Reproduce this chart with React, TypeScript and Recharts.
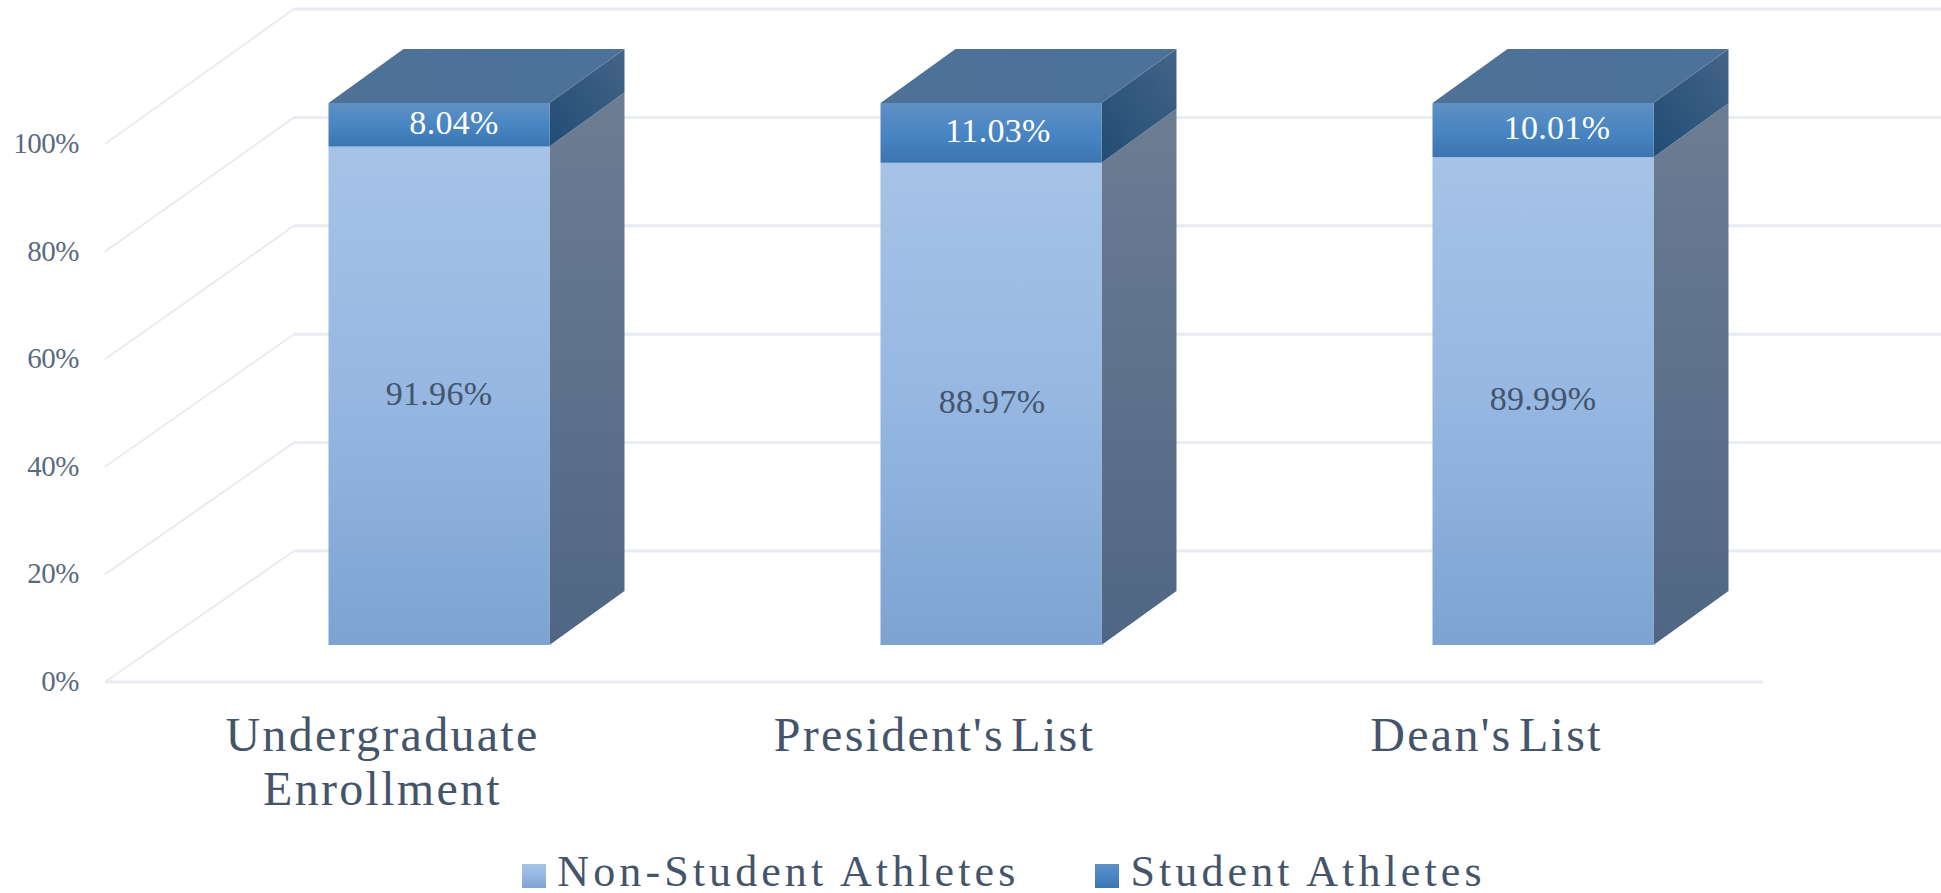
import React from 'react';
import { BarChart, Bar, XAxis, YAxis, Legend, LabelList, CartesianGrid } from 'recharts';

const categories = ['Undergraduate Enrollment', "President's List", "Dean's List"];
const nonStudentAthletes = [91.96, 88.97, 89.99];
const studentAthletes = [8.04, 11.03, 10.01];
const percentTicks = [0, 20, 40, 60, 80, 100];

const data = categories.map((name, i) => ({
  name,
  nonStudent: nonStudentAthletes[i],
  student: studentAthletes[i],
}));

const FONT = '"Liberation Serif", serif';
const TEXT = '#44546a';
const GRID = '#e8ebf1';
const DEPTH_X = 75;
const DEPTH_Y = 54;
const BASE_Y = 645;
const whiteLabelShift = [15, 7, 14];
const darkLabelShift = [0, 1, 0];

// the bars stand in front of the wall, so wall ticks sit a bit lower
const toFrontY = (y: number) => y + 37 + (BASE_Y - y) * 0.0074;

// one bar segment with its side face, plus the lid on the top segment
function Box3D(props: any) {
  const { x, y, width, height, front, side, lid } = props;
  const right = x + width;
  return (
    <g>
      <path
        d={`M${right},${y} L${right + DEPTH_X},${y - DEPTH_Y} L${right + DEPTH_X},${y + height - DEPTH_Y} L${right},${y + height} Z`}
        fill={side}
      />
      {lid && (
        <path
          d={`M${x},${y} L${x + DEPTH_X},${y - DEPTH_Y} L${right + DEPTH_X},${y - DEPTH_Y} L${right},${y} Z`}
          fill="url(#lidFill)"
        />
      )}
      <rect x={x} y={y} width={width} height={height} fill={front} />
    </g>
  );
}

// grid line: side wall, back wall and, at zero, the front edge of the floor
function WallLine(props: any) {
  const y = props.y1;
  const frontY = toFrontY(y);
  const backY = y - 94;
  return (
    <g>
      <line x1={105} y1={frontY} x2={294} y2={backY} stroke={GRID} strokeWidth={2} />
      <line x1={294} y1={backY} x2={1941} y2={backY} stroke={GRID} strokeWidth={3} />
      {y >= BASE_Y - 1 && <line x1={105} y1={frontY} x2={1763} y2={frontY} stroke={GRID} strokeWidth={3} />}
    </g>
  );
}

function WallTick(props: any) {
  const { y, payload } = props;
  return (
    <text
      x={79}
      y={toFrontY(y) + 9}
      textAnchor="end"
      fontFamily={FONT}
      fontSize={29}
      letterSpacing={-0.5}
      fill="#5a6a80"
    >
      {payload.value}%
    </text>
  );
}

function CategoryTick(props: any) {
  const { x, payload } = props;
  const words = payload.value === categories[0] ? payload.value.split(' ') : [payload.value];
  return (
    <text textAnchor="middle" fontFamily={FONT} fontSize={48} letterSpacing={2.3} wordSpacing={-8} fill={TEXT}>
      {words.map((w: string, i: number) => (
        <tspan key={w} x={x - 56} y={751 + i * 54}>
          {w}
        </tspan>
      ))}
    </text>
  );
}

function segmentLabel(color: string, shifts: number[]) {
  return (props: any) => {
    const { x, y, width, height, value, index } = props;
    return (
      <text
        x={x + width / 2 + shifts[index]}
        y={y + height / 2 + 9}
        textAnchor="middle"
        fontFamily={FONT}
        fontSize={34}
        letterSpacing={0.3}
        fill={color}
      >
        {Number(value).toFixed(2)}%
      </text>
    );
  };
}

export default function App() {
  return (
    <div style={{ position: 'absolute', left: 0, top: 0, width: 1941, height: 893, background: '#fff' }}>
      <BarChart
        width={1941}
        height={893}
        data={data}
        barSize={221}
        margin={{ top: 103, right: 122.5, left: 161.5, bottom: 0 }}
      >
        <defs>
          <linearGradient id="lightFront" x1="0" y1="0" x2="0" y2="1">
            <stop offset="0" stopColor="#a6c3e7" />
            <stop offset="0.5" stopColor="#95b7e2" />
            <stop offset="1" stopColor="#7ea3d1" />
          </linearGradient>
          <linearGradient id="darkFront" x1="0" y1="0" x2="0" y2="1">
            <stop offset="0" stopColor="#5f90c4" />
            <stop offset="0.55" stopColor="#4784c2" />
            <stop offset="1" stopColor="#3b75b0" />
          </linearGradient>
          <linearGradient id="lightSide" x1="0" y1="0" x2="0" y2="1">
            <stop offset="0" stopColor="#6c7d93" />
            <stop offset="1" stopColor="#4f6684" />
          </linearGradient>
          <linearGradient id="darkSide" x1="1" y1="0" x2="0" y2="1">
            <stop offset="0" stopColor="#436486" />
            <stop offset="1" stopColor="#224c75" />
          </linearGradient>
          <linearGradient id="lidFill" x1="0" y1="0" x2="1" y2="0">
            <stop offset="0" stopColor="#4e7196" />
            <stop offset="1" stopColor="#4c729b" />
          </linearGradient>
        </defs>
        <CartesianGrid vertical={false} horizontal={(p: any) => <WallLine key={p.y1} {...p} />} />
        <YAxis
          type="number"
          domain={[0, 100]}
          ticks={percentTicks}
          width={1}
          interval={0}
          axisLine={false}
          tickLine={false}
          tick={<WallTick />}
        />
        <XAxis dataKey="name" height={200} interval={0} axisLine={false} tickLine={false} tick={<CategoryTick />} />
        <Bar
          dataKey="nonStudent"
          name="Non-Student Athletes"
          stackId="a"
          fill="url(#lightFront)"
          isAnimationActive={false}
          shape={<Box3D front="url(#lightFront)" side="url(#lightSide)" />}
        >
          <LabelList dataKey="nonStudent" content={segmentLabel('#44546a', darkLabelShift)} />
        </Bar>
        <Bar
          dataKey="student"
          name="Student Athletes"
          stackId="a"
          fill="url(#darkFront)"
          isAnimationActive={false}
          shape={<Box3D front="url(#darkFront)" side="url(#darkSide)" lid />}
        >
          <LabelList dataKey="student" content={segmentLabel('#ffffff', whiteLabelShift)} />
        </Bar>
        <Legend
          iconType="square"
          iconSize={24}
          formatter={(value: string) => (
            <span
              style={{
                color: TEXT,
                fontFamily: FONT,
                fontSize: 44,
                letterSpacing: 4.1,
                position: 'relative',
                top: 6,
                paddingLeft: 7,
                paddingRight: 66,
              }}
            >
              {value}
            </span>
          )}
          wrapperStyle={{ left: 442, top: 840, width: 1200, height: 48, textAlign: 'left' }}
        />
      </BarChart>
    </div>
  );
}
